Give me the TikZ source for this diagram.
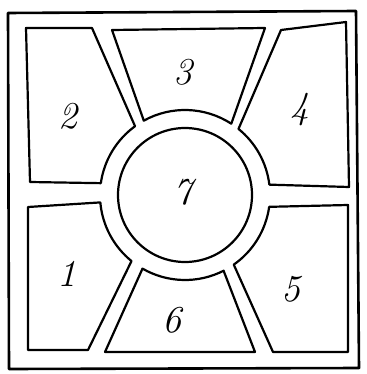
\documentclass[tikz,border=0pt]{standalone}
\usepackage{tikz}
\usetikzlibrary{calc}

\begin{document}
\begin{tikzpicture}[x=1pt,y=-1pt]
  \tikzset{
    mapframe/.style={
      draw=black,
      line width=2.6pt,
      line join=round
    },
    mapregion/.style={
      draw=black,
      line width=2.2pt,
      line join=round
    },
    maplabel/.style={
      font=\fontsize{38}{38}\selectfont\itshape,
      inner sep=0pt
    }
  }
  \useasboundingbox (0,0) rectangle (366,374);

  % ------------------------------------------------------------------
  % Outer frame and centre
  % ------------------------------------------------------------------
  \draw[mapframe] (8,13) -- (356,11) -- (359,368) -- (9,369) -- cycle;
  \coordinate (centre) at (185,195);
  \draw[mapregion] (centre) circle[radius=67];

  % ------------------------------------------------------------------
  % Regions around the ring
  % ------------------------------------------------------------------
  % upper left (2)
  \draw[mapregion] (26,28) -- (92,28) -- ($(centre)+(234:85)$)
    arc[start angle=234, end angle=188, radius=85] -- (30,182) -- cycle;
  % top (3)
  \draw[mapregion] (112,30) -- ($(centre)+(241:85)$)
    arc[start angle=241, end angle=303, radius=85] -- (265,28) -- cycle;
  % upper right (4)
  \draw[mapregion] (281,30) -- (346,22) -- (349,187) -- ($(centre)+(353:85)$)
    arc[start angle=353, end angle=309, radius=85] -- cycle;
  % lower right (5)
  \draw[mapregion] ($(centre)+(8:85)$) -- (348,205) -- (348,352) -- (273,352)
    -- ($(centre)+(55:85)$) arc[start angle=55, end angle=8, radius=85] -- cycle;
  % bottom (6)
  \draw[mapregion] ($(centre)+(63:85)$) -- (255,352) -- (105,352)
    -- ($(centre)+(120:85)$) arc[start angle=120, end angle=63, radius=85] -- cycle;
  % lower left (1)
  \draw[mapregion] (28,207) -- ($(centre)+(175:85)$)
    arc[start angle=175, end angle=129, radius=85] -- (88,350) -- (28,350) -- cycle;

  % ------------------------------------------------------------------
  % Numbers
  % ------------------------------------------------------------------
  \node[maplabel] (num1) at (67,274) {1};
  \node[maplabel] (num2) at (68,116) {2};
  \node[maplabel] (num3) at (183,72) {3};
  \node[maplabel] (num4) at (300,110) {4};
  \node[maplabel] (num5) at (291,289) {5};
  \node[maplabel] (num6) at (172,320) {6};
  \node[maplabel] (num7) at (183,192) {7};
\end{tikzpicture}
\end{document}
